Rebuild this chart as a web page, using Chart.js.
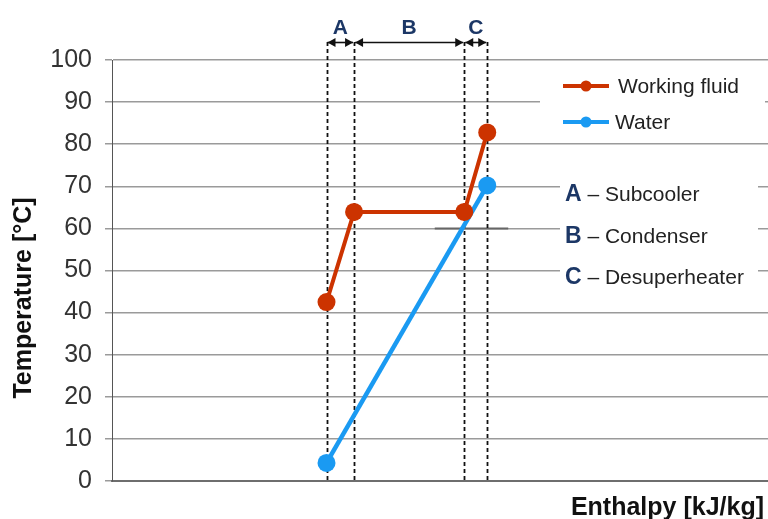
<!DOCTYPE html>
<html>
<head>
<meta charset="utf-8">
<script src="https://cdn.jsdelivr.net/npm/chart.js@4"></script>
<style>
  html, body { margin: 0; padding: 0; background: #fff; }
  #wrap { width: 768px; height: 519px; }
</style>
</head>
<body>
<div id="wrap"><canvas id="chart" width="768" height="519"></canvas></div>
<script>
// data
var fluidEnthalpy = [32.7, 36.9, 53.7, 57.2];
var fluidTemp = [42.5, 63.9, 63.9, 82.8];
var waterEnthalpy = [32.7, 57.2];
var waterTemp = [4.3, 70.2];
var zoneBounds = [32.7, 36.9, 53.7, 57.2];
var zoneLetters = ['A', 'B', 'C'];
var zoneNames = ['Subcooler', 'Condenser', 'Desuperheater'];
var seriesNames = ['Working fluid', 'Water'];

var FONT = "'Liberation Sans', Arial, sans-serif";
var RED = '#cc3300';
var BLUE = '#1a9af2';
var NAVY = '#1c3766';

function toPoints(xs, ys) {
  var out = [];
  for (var i = 0; i < xs.length; i++) out.push({x: xs[i], y: ys[i]});
  return out;
}

function arrowHead(ctx, x, y, dir) {
  // dir -1 = points left, 1 = points right
  ctx.beginPath();
  ctx.moveTo(x, y);
  ctx.lineTo(x - dir * 8, y - 4.5);
  ctx.lineTo(x - dir * 8, y + 4.5);
  ctx.closePath();
  ctx.fill();
}

var overlay = {
  id: 'overlay',
  beforeDatasetsDraw: function (chart) {
    var ctx = chart.ctx, xs = chart.scales.x, area = chart.chartArea;
    ctx.save();
    // little darker piece on the 60 line
    var ys = chart.scales.y;
    ctx.strokeStyle = '#666';
    ctx.lineWidth = 2;
    ctx.beginPath();
    ctx.moveTo(xs.getPixelForValue(49.2), ys.getPixelForValue(60));
    ctx.lineTo(xs.getPixelForValue(60.4), ys.getPixelForValue(60));
    ctx.stroke();

    // dashed zone borders
    ctx.strokeStyle = '#111';
    ctx.lineWidth = 1.8;
    ctx.setLineDash([4, 3]);
    zoneBounds.forEach(function (b) {
      var px = Math.round(xs.getPixelForValue(b)) + 0.5;
      ctx.beginPath();
      ctx.moveTo(px, 42);
      ctx.lineTo(px, area.bottom);
      ctx.stroke();
    });
    ctx.setLineDash([]);

    // arrows + letters
    ctx.fillStyle = '#111';
    ctx.lineWidth = 1.6;
    var ay = 42.5;
    for (var i = 0; i < zoneLetters.length; i++) {
      var x1 = xs.getPixelForValue(zoneBounds[i]) + 1;
      var x2 = xs.getPixelForValue(zoneBounds[i + 1]) - 1;
      ctx.strokeStyle = '#111';
      ctx.beginPath();
      ctx.moveTo(x1, ay);
      ctx.lineTo(x2, ay);
      ctx.stroke();
      arrowHead(ctx, x1, ay, -1);
      arrowHead(ctx, x2, ay, 1);
    }
    ctx.fillStyle = NAVY;
    ctx.font = 'bold 21px ' + FONT;
    ctx.textAlign = 'center';
    ctx.textBaseline = 'middle';
    for (var j = 0; j < zoneLetters.length; j++) {
      var cx = (xs.getPixelForValue(zoneBounds[j]) + xs.getPixelForValue(zoneBounds[j + 1])) / 2;
      ctx.fillText(zoneLetters[j], cx, 28);
    }
    ctx.restore();
  },
  afterDraw: function (chart) {
    var ctx = chart.ctx;
    ctx.save();
    // white boxes behind legend and zone notes
    ctx.fillStyle = '#fff';
    ctx.fillRect(540, 64, 225, 76);
    ctx.fillRect(560, 174, 198, 116);

    // legend
    var cols = [RED, BLUE];
    var ly = [86, 122];
    var tx = [618, 615];
    ctx.font = '21px ' + FONT;
    ctx.textBaseline = 'middle';
    ctx.textAlign = 'left';
    for (var i = 0; i < 2; i++) {
      ctx.strokeStyle = cols[i];
      ctx.lineWidth = 4;
      ctx.beginPath();
      ctx.moveTo(563, ly[i]);
      ctx.lineTo(609, ly[i]);
      ctx.stroke();
      ctx.fillStyle = cols[i];
      ctx.beginPath();
      ctx.arc(586, ly[i], 5.5, 0, Math.PI * 2);
      ctx.fill();
      ctx.fillStyle = '#222';
      ctx.fillText(seriesNames[i], tx[i], ly[i] + 1);
    }

    // zone notes
    ctx.textBaseline = 'alphabetic';
    var base = [200.5, 242.5, 284];
    for (var j = 0; j < zoneLetters.length; j++) {
      ctx.font = 'bold 23px ' + FONT;
      ctx.fillStyle = NAVY;
      ctx.fillText(zoneLetters[j], 565, base[j]);
      var w = ctx.measureText(zoneLetters[j]).width;
      ctx.font = '21px ' + FONT;
      ctx.fillStyle = '#222';
      ctx.fillText(' \u2013 ' + zoneNames[j], 565 + w, base[j]);
    }

    // axis titles
    ctx.fillStyle = '#111';
    ctx.font = 'bold 25px ' + FONT;
    ctx.textAlign = 'right';
    ctx.fillText('Enthalpy [kJ/kg]', 764, 515);

    ctx.translate(31, 298);
    ctx.rotate(-Math.PI / 2);
    ctx.textAlign = 'center';
    ctx.fillText('Temperature [\u00b0C]', 0, 0);
    ctx.restore();
  }
};

var chart = new Chart(document.getElementById('chart'), {
  type: 'line',
  data: {
    datasets: [{
      label: seriesNames[0],
      data: toPoints(fluidEnthalpy, fluidTemp),
      borderColor: RED,
      backgroundColor: RED,
      borderWidth: 4,
      pointRadius: 9,
      pointBorderWidth: 0,
      tension: 0
    }, {
      label: seriesNames[1],
      data: toPoints(waterEnthalpy, waterTemp),
      borderColor: BLUE,
      backgroundColor: BLUE,
      borderWidth: 4.5,
      pointRadius: 9,
      pointBorderWidth: 0,
      tension: 0
    }]
  },
  options: {
    responsive: false,
    animation: false,
    events: [],
    layout: { autoPadding: false, padding: { top: 60, right: 0, left: 0, bottom: 0 } },
    plugins: { legend: { display: false }, tooltip: { enabled: false } },
    scales: {
      x: {
        type: 'linear',
        min: 0,
        max: 100,
        ticks: { display: false },
        grid: { display: false },
        border: { display: true, color: '#6e6e6e', width: 2 },
        afterFit: function (s) { s.height = 38; }
      },
      y: {
        min: 0,
        max: 100,
        ticks: {
          stepSize: 10,
          padding: 13,
          color: '#333',
          font: { family: FONT, size: 25 }
        },
        grid: { color: '#9a9a9a', lineWidth: 1.5, tickLength: 7 },
        border: { display: true, color: '#555', width: 1 },
        afterFit: function (s) { s.width = 112; }
      }
    }
  },
  plugins: [overlay]
});
</script>
</body>
</html>
